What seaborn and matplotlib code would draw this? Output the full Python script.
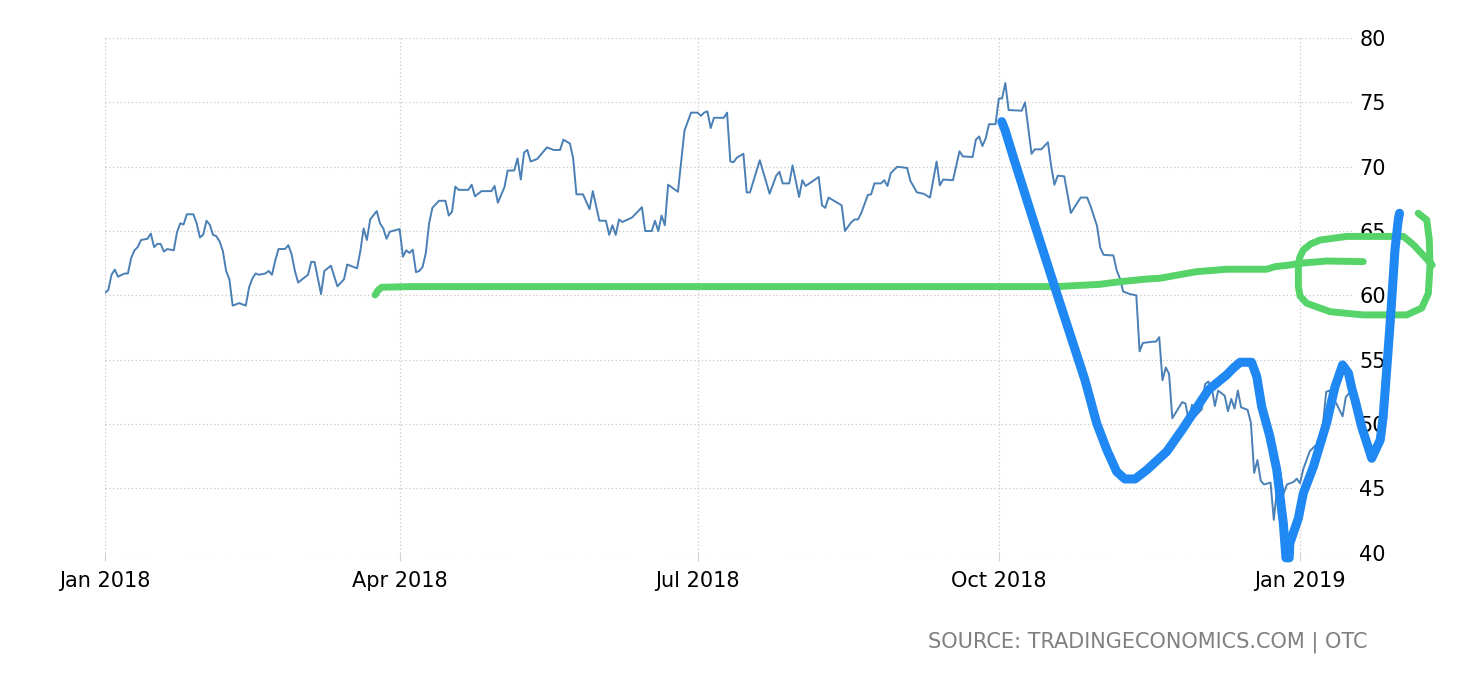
import matplotlib
matplotlib.use("Agg")
import matplotlib.pyplot as plt
import matplotlib.dates as mdates
import seaborn as sns
import pandas as pd

# daily quotes
dates = [
    "2018-01-01", "2018-01-02", "2018-01-03", "2018-01-04", "2018-01-05", "2018-01-07", "2018-01-08",
    "2018-01-09", "2018-01-10", "2018-01-11", "2018-01-12", "2018-01-14", "2018-01-15", "2018-01-16",
    "2018-01-17", "2018-01-18", "2018-01-19", "2018-01-20", "2018-01-22", "2018-01-23", "2018-01-24",
    "2018-01-25", "2018-01-26", "2018-01-28", "2018-01-29", "2018-01-30", "2018-01-31", "2018-02-01",
    "2018-02-02", "2018-02-03", "2018-02-04", "2018-02-05", "2018-02-06", "2018-02-07", "2018-02-08",
    "2018-02-09", "2018-02-11", "2018-02-13", "2018-02-14", "2018-02-15", "2018-02-16", "2018-02-17",
    "2018-02-19", "2018-02-20", "2018-02-21", "2018-02-22", "2018-02-23", "2018-02-25", "2018-02-26",
    "2018-02-27", "2018-02-28", "2018-03-01", "2018-03-04", "2018-03-05", "2018-03-06", "2018-03-08",
    "2018-03-09", "2018-03-11", "2018-03-13", "2018-03-15", "2018-03-16", "2018-03-19", "2018-03-20",
    "2018-03-21", "2018-03-22", "2018-03-23", "2018-03-25", "2018-03-26", "2018-03-27", "2018-03-28",
    "2018-03-29", "2018-04-01", "2018-04-02", "2018-04-03", "2018-04-04", "2018-04-05", "2018-04-06",
    "2018-04-07", "2018-04-08", "2018-04-09", "2018-04-10", "2018-04-11", "2018-04-13", "2018-04-15",
    "2018-04-16", "2018-04-17", "2018-04-18", "2018-04-19", "2018-04-22", "2018-04-23", "2018-04-24",
    "2018-04-26", "2018-04-29", "2018-04-30", "2018-05-01", "2018-05-03", "2018-05-04", "2018-05-06",
    "2018-05-07", "2018-05-08", "2018-05-09", "2018-05-10", "2018-05-11", "2018-05-13", "2018-05-14",
    "2018-05-16", "2018-05-18", "2018-05-20", "2018-05-21", "2018-05-23", "2018-05-24", "2018-05-25",
    "2018-05-27", "2018-05-29", "2018-05-30", "2018-06-01", "2018-06-03", "2018-06-04", "2018-06-05",
    "2018-06-06", "2018-06-07", "2018-06-08", "2018-06-11", "2018-06-14", "2018-06-15", "2018-06-17",
    "2018-06-18", "2018-06-19", "2018-06-20", "2018-06-21", "2018-06-22", "2018-06-25", "2018-06-27",
    "2018-06-29", "2018-07-01", "2018-07-02", "2018-07-03", "2018-07-04", "2018-07-05", "2018-07-06",
    "2018-07-09", "2018-07-10", "2018-07-11", "2018-07-12", "2018-07-13", "2018-07-15", "2018-07-16",
    "2018-07-17", "2018-07-20", "2018-07-23", "2018-07-25", "2018-07-26", "2018-07-27", "2018-07-29",
    "2018-07-30", "2018-08-01", "2018-08-02", "2018-08-03", "2018-08-07", "2018-08-08", "2018-08-09",
    "2018-08-10", "2018-08-14", "2018-08-15", "2018-08-17", "2018-08-18", "2018-08-19", "2018-08-20",
    "2018-08-22", "2018-08-23", "2018-08-24", "2018-08-26", "2018-08-27", "2018-08-28", "2018-08-29",
    "2018-08-31", "2018-09-03", "2018-09-04", "2018-09-06", "2018-09-08", "2018-09-10", "2018-09-12",
    "2018-09-13", "2018-09-14", "2018-09-17", "2018-09-19", "2018-09-20", "2018-09-23", "2018-09-24",
    "2018-09-25", "2018-09-26", "2018-09-27", "2018-09-28", "2018-09-30", "2018-10-01", "2018-10-02",
    "2018-10-03", "2018-10-04", "2018-10-08", "2018-10-09", "2018-10-11", "2018-10-12", "2018-10-14",
    "2018-10-16", "2018-10-17", "2018-10-18", "2018-10-19", "2018-10-21", "2018-10-23", "2018-10-25",
    "2018-10-26", "2018-10-28", "2018-10-29", "2018-10-31", "2018-11-01", "2018-11-02", "2018-11-05",
    "2018-11-06", "2018-11-07", "2018-11-08", "2018-11-10", "2018-11-12", "2018-11-13", "2018-11-14",
    "2018-11-17", "2018-11-18", "2018-11-19", "2018-11-20", "2018-11-21", "2018-11-22", "2018-11-23",
    "2018-11-26", "2018-11-27", "2018-11-28", "2018-11-29", "2018-11-30", "2018-12-02", "2018-12-03",
    "2018-12-04", "2018-12-05", "2018-12-06", "2018-12-07", "2018-12-08", "2018-12-09", "2018-12-10",
    "2018-12-11", "2018-12-12", "2018-12-13", "2018-12-14", "2018-12-16", "2018-12-17", "2018-12-18",
    "2018-12-19", "2018-12-20", "2018-12-21", "2018-12-23", "2018-12-24", "2018-12-25", "2018-12-26",
    "2018-12-27", "2018-12-28", "2018-12-30", "2018-12-31", "2019-01-01", "2019-01-02", "2019-01-04",
    "2019-01-06", "2019-01-07", "2019-01-08", "2019-01-09", "2019-01-10", "2019-01-11", "2019-01-12",
    "2019-01-14", "2019-01-15", "2019-01-16", "2019-01-17",
]
values = [
    60.2, 60.4, 61.6, 62.0, 61.45, 61.7, 61.7,
    62.9, 63.5, 63.75, 64.3, 64.4, 64.8, 63.75,
    64.0, 64.0, 63.4, 63.6, 63.5, 64.9, 65.6,
    65.5, 66.3, 66.3, 65.6, 64.5, 64.7, 65.8,
    65.5, 64.7, 64.6, 64.2, 63.45, 61.9, 61.25,
    59.2, 59.4, 59.2, 60.6, 61.3, 61.7, 61.6,
    61.7, 61.9, 61.6, 62.7, 63.6, 63.6, 63.9,
    63.2, 61.9, 61.0, 61.6, 62.6, 62.6, 60.1,
    61.9, 62.3, 60.7, 61.25, 62.4, 62.1, 63.45,
    65.2, 64.3, 65.9, 66.55, 65.6, 65.2, 64.4,
    64.95, 65.15, 63.0, 63.5, 63.3, 63.55, 61.8,
    61.9, 62.2, 63.3, 65.6, 66.8, 67.35, 67.35,
    66.2, 66.5, 68.45, 68.2, 68.2, 68.6, 67.7,
    68.1, 68.1, 68.5, 67.2, 68.4, 69.7, 69.7,
    70.65, 69.0, 71.1, 71.3, 70.4, 70.6, 70.9,
    71.5, 71.3, 71.3, 72.1, 71.8, 70.65, 67.85,
    67.85, 66.7, 68.1, 65.8, 65.8, 64.7, 65.45,
    64.7, 65.9, 65.7, 66.05, 66.85, 65.0, 65.0,
    65.8, 65.0, 66.2, 65.45, 68.6, 68.05, 72.8,
    74.2, 74.2, 73.95, 74.2, 74.3, 73.0, 73.8,
    73.8, 74.2, 70.4, 70.35, 70.7, 71.0, 68.0,
    68.0, 70.5, 67.9, 69.3, 69.6, 68.7, 68.7,
    70.1, 67.65, 68.95, 68.5, 69.2, 67.0, 66.8,
    67.6, 67.0, 65.0, 65.7, 65.9, 65.9, 66.4,
    67.8, 67.85, 68.7, 68.7, 68.95, 68.5, 69.5,
    70.0, 69.9, 68.9, 68.0, 67.9, 67.6, 70.4,
    68.55, 69.0, 68.95, 71.2, 70.8, 70.75, 72.1,
    72.35, 71.6, 72.2, 73.3, 73.3, 75.3, 75.3,
    76.5, 74.4, 74.35, 75.0, 71.0, 71.35, 71.35,
    71.9, 70.05, 68.6, 69.3, 69.25, 66.4, 67.2,
    67.6, 67.6, 66.95, 65.4, 63.7, 63.15, 63.1,
    61.95, 61.3, 60.3, 60.1, 60.0, 55.65, 56.3,
    56.4, 56.4, 56.75, 53.4, 54.4, 53.9, 50.45,
    51.7, 51.6, 50.3, 51.5, 50.6, 51.15, 53.1,
    53.3, 52.85, 51.4, 52.6, 52.4, 52.2, 51.0,
    51.95, 51.2, 52.6, 51.3, 51.1, 50.1, 46.2,
    47.2, 45.6, 45.3, 45.45, 42.55, 45.05, 46.2,
    44.6, 45.3, 45.5, 45.75, 45.4, 46.5, 47.9,
    48.4, 49.1, 50.0, 52.5, 52.6, 51.8, 51.65,
    50.6, 52.1, 52.4, 52.2,
]

# hand-drawn marks on top of the chart, days after 2018-01-01
blue_days = [273.9, 274.9, 277.4, 283.5, 290.7, 299.3, 302.9, 306.0, 309.0, 311.5, 314.6, 318.2,
             324.3, 329.3, 337.0, 342.6, 344.6, 346.7, 350.2, 351.8, 353.3, 355.8, 357.9, 359.9,
             360.7, 361.7, 361.9, 364.5, 366.0, 369.1, 373.1, 375.7, 378.0, 379.8, 380.8, 381.8,
             383.8, 386.9, 389.5, 390.4, 392.3, 393.0, 394.0, 395.0, 395.4]
blue_values = [73.5, 72.85, 70.78, 65.86, 60.16, 53.43, 50.06, 47.99, 46.3, 45.73, 45.73, 46.43,
               47.86, 49.67, 52.65, 53.82, 54.34, 54.8, 54.8, 53.68, 51.35, 49.02, 46.43, 42.29,
               39.6, 39.6, 40.74, 42.68, 44.62, 46.69, 50.06, 52.91, 54.59, 53.95, 52.78, 51.87,
               49.8, 47.34, 48.76, 50.57, 57.05, 59.64, 63.53, 65.86, 66.38]

green_days = [82.5, 83.5, 84.6, 93.2, 290.7, 303.9, 310.0, 318.2, 322.2, 333.4, 342.6, 354.8,
              357.4, 361.9, 365.0, 373.1, 384.3]
green_values = [60.03, 60.42, 60.63, 60.68, 60.68, 60.86, 61.06, 61.27, 61.33, 61.84, 62.03, 62.03,
                62.23, 62.36, 62.49, 62.67, 62.62]

loop_days = [401.1, 403.7, 404.5, 404.7, 404.2, 402.2, 397.6, 384.3, 374.2, 367.0, 365.0, 364.5,
             364.5, 364.9, 366.0, 368.3, 371.1, 379.3, 396.6, 399.7, 405.4]
loop_values = [66.38, 65.86, 64.3, 62.36, 60.16, 59.02, 58.48, 58.48, 58.73, 59.39, 59.95, 60.68,
               62.23, 62.95, 63.53, 64.0, 64.3, 64.58, 64.58, 63.92, 62.36]

y_ticks = [40, 45, 50, 55, 60, 65, 70, 75, 80]
source_text = "SOURCE: TRADINGECONOMICS.COM | OTC"


def main():
    sns.set_theme(style="whitegrid")
    plt.rcParams['font.family'] = ['DejaVu Sans']

    df = pd.DataFrame({'date': pd.to_datetime(dates), 'value': values})
    start = pd.Timestamp("2018-01-01")

    fig = plt.figure(figsize=(14.6, 6.8), dpi=100)
    ax = fig.add_axes([0.0719, 0.1872, 0.8544, 0.7569])
    ax.set_facecolor('white')

    sns.lineplot(data=df, x='date', y='value', ax=ax, color='#4a80b5', linewidth=1.4)

    # annotations
    ax.plot(start + pd.to_timedelta(green_days, unit='D'), green_values, color='#56d46a',
            linewidth=5, solid_capstyle='round', solid_joinstyle='round', clip_on=False, zorder=4)
    ax.plot(start + pd.to_timedelta(loop_days, unit='D'), loop_values, color='#56d46a',
            linewidth=5, solid_capstyle='round', solid_joinstyle='round', clip_on=False, zorder=4)
    ax.plot(start + pd.to_timedelta(blue_days, unit='D'), blue_values, color='#1f88f2',
            linewidth=6.5, solid_capstyle='round', solid_joinstyle='round', clip_on=False, zorder=5)

    ax.set_xlim(start, pd.Timestamp("2019-01-17"))
    ax.set_ylim(40, 80)
    ax.set_yticks(y_ticks)
    ax.xaxis.set_major_locator(mdates.MonthLocator(bymonth=[1, 4, 7, 10]))
    ax.xaxis.set_major_formatter(mdates.DateFormatter('%b %Y'))

    ax.yaxis.tick_right()
    ax.set_xlabel('')
    ax.set_ylabel('')
    for s in ax.spines.values():
        s.set_visible(False)

    ax.grid(True, color='#c8c8c8', linestyle=(0, (1, 2)), linewidth=0.9)
    ax.tick_params(axis='x', length=6, width=0.8, color='#d0d0d0', pad=7, labelsize=15,
                   labelcolor='black', bottom=True)
    ax.tick_params(axis='y', length=0, pad=5, labelsize=15, labelcolor='black',
                   right=True, left=False)
    for lab in ax.get_yticklabels():
        lab.set_horizontalalignment('left')

    fig.text(1368 / 1460, 1 - 642 / 680, source_text, ha='right', va='center',
             fontsize=15, color='#808080')

    fig.savefig('out.png', dpi=100)


if __name__ == "__main__":
    main()
